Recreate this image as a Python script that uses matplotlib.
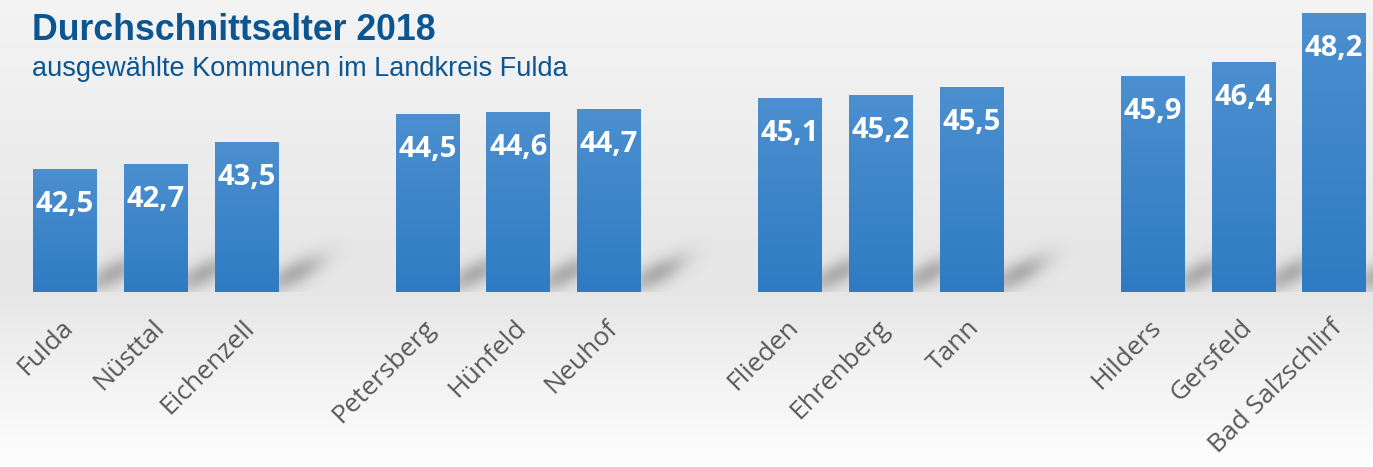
import numpy as np
import matplotlib.pyplot as plt
from matplotlib.colors import LinearSegmentedColormap

orte = ['Fulda', 'Nüsttal', 'Eichenzell',
        'Petersberg', 'Hünfeld', 'Neuhof',
        'Flieden', 'Ehrenberg', 'Tann',
        'Hilders', 'Gersfeld', 'Bad Salzschlirf']
alter = [42.5, 42.7, 43.5, 44.5, 44.6, 44.7, 45.1, 45.2, 45.5, 45.9, 46.4, 48.2]
gruppe = [0, 0, 0, 1, 1, 1, 2, 2, 2, 3, 3, 3]

titel = 'Durchschnittsalter 2018'
untertitel = 'ausgewählte Kommunen im Landkreis Fulda'

blau_titel = '#0b5591'
y0, y1 = 38.06, 48.68
x0, x1 = -0.717, 14.43
breite = 0.7
W, H = 1373, 467

pos = np.array([i + g for i, g in enumerate(gruppe)], dtype=float)

fig = plt.figure(figsize=(W / 100, H / 100), dpi=100)

# hintergrund mit verlauf
bg = fig.add_axes([0, 0, 1, 1], zorder=-10)
t = np.linspace(0, 1, 400)
verlauf = np.interp(t, [0, 0.15, 0.5, 0.63, 0.8, 1.0], [0.955, 0.945, 0.91, 0.905, 0.95, 0.995])
img = np.repeat(verlauf[:, None], 3, axis=1)[:, None, :]
bg.imshow(img, aspect='auto', extent=[0, 1, 0, 1], origin='upper')
bg.set_axis_off()

ax = fig.add_axes([0, 1 - 292 / H, 1, 292 / H])
ax.set_xlim(x0, x1)
ax.set_ylim(y0, y1)
ax.patch.set_alpha(0)

# schatten hinter den balken (in pixeln gerechnet)
sx = W / (x1 - x0)
sy = 292 / (y1 - y0)
xs = np.linspace(x0, x1, 1000)
ys = np.linspace(y0, y1, 300)
X, Y = np.meshgrid(xs, ys)
PX, PY = (X - x0) * sx, (Y - y0) * sy
winkel = np.deg2rad(28)
sch = np.zeros_like(X)
for p in pos:
    cx = (p + breite / 2 - x0) * sx + 16
    cy = 18
    du = (PX - cx) * np.cos(winkel) + (PY - cy) * np.sin(winkel)
    dv = -(PX - cx) * np.sin(winkel) + (PY - cy) * np.cos(winkel)
    sch += np.exp(-(du / 32) ** 2 - (dv / 12) ** 2)
sch = np.clip(sch, 0, 1)
rgba = np.zeros(X.shape + (4,))
rgba[..., :3] = 0.4
rgba[..., 3] = 0.45 * sch
ax.imshow(rgba, extent=[x0, x1, y0, y1], origin='lower', aspect='auto', zorder=1)

cmap = LinearSegmentedColormap.from_list('balken', ['#2f7bc3', '#4b8fcf'])
grad = np.linspace(0, 1, 100).reshape(-1, 1)
for p, v in zip(pos, alter):
    ax.imshow(grad, cmap=cmap, extent=[p - breite / 2, p + breite / 2, y0, v],
              origin='lower', aspect='auto', zorder=2)
    ax.text(p, v - 1.27, f'{v:.1f}'.replace('.', ','), ha='center', va='center',
            color='white', fontsize=21, fontweight='bold', family='Open Sans', zorder=3)

ax.set_xticks(pos + 0.05)
ax.set_xticklabels(orte, rotation=45, ha='right', rotation_mode='anchor', va='center',
                   fontsize=19, color='#595959', family='Open Sans')
ax.tick_params(axis='x', length=0, pad=23)
ax.set_yticks([])
for s in ax.spines.values():
    s.set_visible(False)

fig.text(32 / W, 1 - 40 / H, titel, fontsize=25.7, fontweight='bold',
         color=blau_titel, family='Liberation Sans')
fig.text(32 / W, 1 - 76 / H, untertitel, fontsize=19.5,
         color=blau_titel, family='Liberation Sans')

fig.savefig('out.png', dpi=100)
